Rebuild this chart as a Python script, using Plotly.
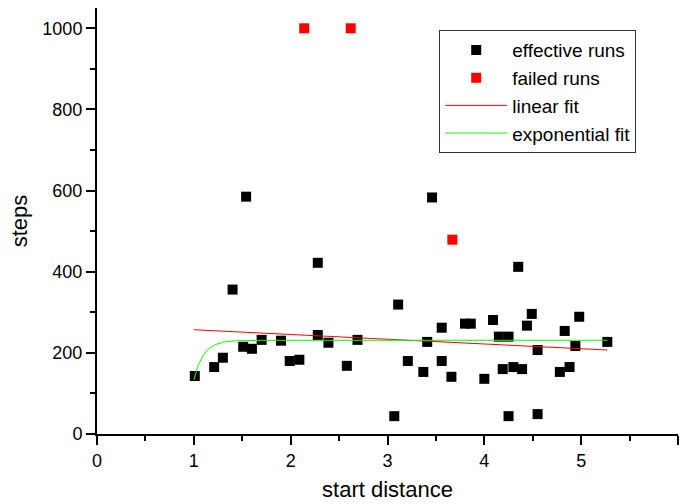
import numpy as np
import plotly.graph_objects as go

# effective runs
eff_x = [1.01, 1.21, 1.30, 1.40, 1.51, 1.54, 1.60, 1.70, 1.90, 1.99, 2.09, 2.28, 2.28,
         2.39, 2.58, 2.69, 3.07, 3.11, 3.21, 3.37, 3.41, 3.46, 3.56, 3.56, 3.66, 3.80,
         3.86, 4.00, 4.09, 4.15, 4.19, 4.25, 4.25, 4.30, 4.35, 4.39, 4.44, 4.49, 4.55,
         4.55, 4.78, 4.83, 4.88, 4.94, 4.98, 5.27]
eff_y = [143, 165, 188, 356, 215, 585, 210, 232, 230, 180, 183, 244, 422,
         225, 168, 232, 44, 319, 180, 153, 227, 583, 262, 180, 141, 272,
         272, 136, 281, 240, 160, 240, 44, 165, 412, 160, 267, 296, 207,
         49, 153, 254, 165, 217, 289, 227]

# failed runs
fail_x = [2.14, 2.62, 3.67]
fail_y = [1000, 1000, 479]

# fit parameters
fit_x_min, fit_x_max = 1.0, 5.27
lin_intercept, lin_slope = 268.7, -11.71
exp_y0, exp_a, exp_x0, exp_t = 231.0, -98.0, 1.0, 0.1

fit_x = np.linspace(fit_x_min, fit_x_max, 400)
lin_y = lin_intercept + lin_slope * fit_x
exp_y = exp_y0 + exp_a * np.exp(-(fit_x - exp_x0) / exp_t)

FONT = "Liberation Sans, Arial, sans-serif"

fig = go.Figure()
fig.add_trace(go.Scatter(x=eff_x, y=eff_y, mode="markers", name="effective runs",
                         marker=dict(symbol="square", size=10, color="black", line=dict(width=0))))
fig.add_trace(go.Scatter(x=fail_x, y=fail_y, mode="markers", name="failed runs",
                         marker=dict(symbol="square", size=10, color="#ff0000", line=dict(width=0))))
fig.add_trace(go.Scatter(x=fit_x, y=lin_y, mode="lines", name="linear fit",
                         line=dict(color="#ff0000", width=1)))
fig.add_trace(go.Scatter(x=fit_x, y=exp_y, mode="lines", name="exponential fit",
                         line=dict(color="#00ff00", width=1)))

axis_common = dict(showgrid=False, zeroline=False, showline=True, linecolor="black",
                   linewidth=2, ticks="outside", ticklen=9, tickwidth=2, tickcolor="black",
                   mirror=False, tickfont=dict(family=FONT, size=18, color="black"))

fig.update_xaxes(range=[0, 6], dtick=1, tick0=0,
                 minor=dict(dtick=0.5, ticks="outside", ticklen=5, tickwidth=2, tickcolor="black"),
                 title=dict(text="start distance", font=dict(family=FONT, size=22, color="black"),
                            standoff=12),
                 **axis_common)
fig.update_yaxes(range=[0, 1050], dtick=200, tick0=0,
                 minor=dict(dtick=100, ticks="outside", ticklen=5, tickwidth=2, tickcolor="black"),
                 title=dict(text="steps", font=dict(family=FONT, size=22, color="black"),
                            standoff=9),
                 **axis_common)

fig.update_layout(
    width=681, height=504,
    margin=dict(l=97, r=3, t=8, b=70),
    paper_bgcolor="white", plot_bgcolor="white",
    font=dict(family=FONT, color="black"),
    legend=dict(x=0.589, y=0.948, xanchor="left", yanchor="top",
                bgcolor="white", bordercolor="#333333", borderwidth=1,
                font=dict(family=FONT, size=19, color="black"),
                itemwidth=62),
)

fig.write_html("out.html")
